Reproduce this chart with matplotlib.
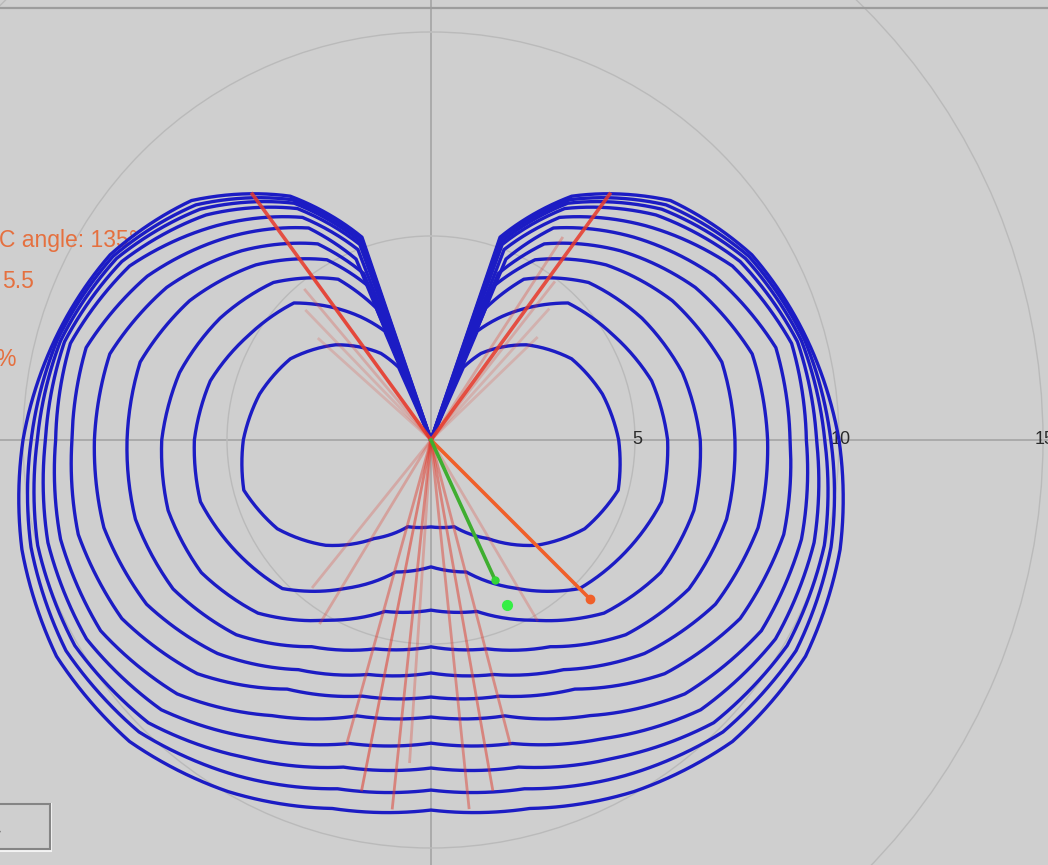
import numpy as np
import matplotlib.pyplot as plt
from matplotlib.lines import Line2D
from matplotlib.patches import Rectangle

# boat speed polar: one curve per true wind speed, starboard half (TWA 0..180),
# mirrored to port
twa = [30, 45, 60, 75, 90, 105, 120, 135, 150, 165, 180]
beat_angle = [24, 23, 22.5, 22, 22, 22.5, 21, 20, 19.5, 19, 18.8]
beat_speed = [1.95, 2.9, 3.5, 4.05, 4.4, 4.8, 5.0, 5.1, 5.15, 5.2, 5.25]
speeds = [
    [2.45, 3.3, 3.98, 4.35, 4.6, 4.75, 4.35, 3.65, 2.79, 2.2, 2.13],
    [3.5, 4.75, 5.15, 5.6, 5.8, 5.85, 5.5, 5.15, 4.2, 3.35, 3.11],
    [4.55, 5.46, 5.97, 6.38, 6.6, 6.67, 6.5, 6.0, 5.1, 4.35, 4.17],
    [5.1, 6.07, 6.83, 7.38, 7.45, 7.5, 7.3, 6.75, 5.85, 5.3, 5.07],
    [5.55, 6.56, 7.48, 8.15, 8.25, 8.3, 8.05, 7.4, 6.5, 5.95, 5.71],
    [6.0, 7.03, 8.03, 8.75, 8.8, 8.95, 8.75, 8.1, 7.05, 6.5, 6.30],
    [6.3, 7.43, 8.53, 9.15, 9.2, 9.4, 9.35, 8.8, 7.8, 7.0, 6.79],
    [6.55, 7.8, 8.75, 9.3, 9.45, 9.72, 9.75, 9.35, 8.45, 7.7, 7.43],
    [6.7, 8.0, 8.9, 9.4, 9.65, 9.98, 10.08, 9.8, 9.0, 8.3, 8.04],
    [6.8, 8.15, 9.0, 9.48, 9.8, 10.15, 10.33, 10.12, 9.5, 8.85, 8.58],
    [6.9, 8.3, 9.08, 9.54, 10.0, 10.38, 10.6, 10.45, 9.95, 9.35, 9.07],
]

# optimum beat lines and sampled headings
beat_line_angle = [36, 324]
beat_line_len = [7.45, 7.45]
ray_angle = [33, 38, 42, 46, 324, 320, 316, 312,
             174.1, 170, 165.4, 149.5, 183.8, 186, 191.2, 195.5, 211.2, 218.8]
ray_len = [5.9, 4.9, 4.3, 3.6, 5.2, 4.8, 4.4, 3.7,
           9.06, 8.7, 7.68, 5.12, 7.9, 9.07, 8.74, 7.7, 5.24, 4.62]
ray_alpha = [0.3, 0.25, 0.2, 0.2, 0.3, 0.25, 0.2, 0.2,
             0.45, 0.5, 0.45, 0.25, 0.3, 0.5, 0.55, 0.45, 0.3, 0.25]

vmc_angle = 135
vmc_speed = 5.5
heading_angle = 155.4
heading_speed = 3.77
target_speed = 4.45

ring_values = [5, 10, 15, 20]
ring_labels = [5, 10, 15]

W, H = 1048, 865
cx, cy = 431, 440
px_per_unit = 40.8
rmax = 22
bg = '#cfcfcf'

fig = plt.figure(figsize=(W / 100, H / 100), dpi=100, facecolor=bg)
R = rmax * px_per_unit
ax = fig.add_axes([(cx - R) / W, (H - cy - R) / H, 2 * R / W, 2 * R / H],
                  projection='polar')
ax.set_facecolor(bg)
ax.set_theta_zero_location('N')
ax.set_theta_direction(-1)
ax.set_ylim(0, rmax)
ax.set_rticks(ring_values)
ax.set_yticklabels([])
ax.set_thetagrids([0, 90, 180, 270], labels=[''] * 4)
ax.spines['polar'].set_visible(False)
ax.set_axisbelow(True)
ax.xaxis.grid(True, color='#a4a4a4', lw=1.2)
ax.yaxis.grid(True, color='#bababa', lw=1.0)

for v in ring_labels:
    ax.text(np.deg2rad(90), v + 0.05, str(v), ha='center', va='center',
            fontsize=13, color='#2a2a2a', family='Liberation Sans', zorder=1.5)

# info text, drawn under the curves
info = dict(transform=fig.transFigure, fontsize=16.5, color='#e5703f',
            family='Liberation Sans', va='center', ha='left', zorder=1.5)
ax.text(-1 / W, 1 - 241 / H, 'C angle: %d°' % vmc_angle, **info)
ax.text(2 / W, 1 - 281 / H, '%.1f' % vmc_speed, **info)
ax.text(-5 / W, 1 - 360 / H, '%', **info)

for a0, s0, row in zip(beat_angle, beat_speed, speeds):
    half_t = [a0, a0] + twa
    half_r = [0, s0] + row
    th = half_t + [360 - t for t in half_t[::-1][1:]]
    rr = half_r + half_r[::-1][1:]
    line, = ax.plot(np.deg2rad(th), rr, color='#1c1cc4', lw=2.4, zorder=2,
                    solid_joinstyle='round')
    # follow the polar grid between samples instead of straight chords
    line.get_path()._interpolation_steps = 24

for a, r, al in zip(ray_angle, ray_len, ray_alpha):
    ax.plot([np.deg2rad(a)] * 2, [0, r], color='#e03a2c', lw=2.0,
            alpha=al, zorder=3)
for a, r in zip(beat_line_angle, beat_line_len):
    ax.plot([np.deg2rad(a)] * 2, [0, r], color='#e8392a', lw=2.6,
            alpha=0.85, zorder=3)

ax.plot([np.deg2rad(vmc_angle)] * 2, [0, vmc_speed], color='#f0602a', lw=2.6,
        marker='o', ms=6, markevery=[1], zorder=4)
ax.plot([np.deg2rad(heading_angle)] * 2, [0, heading_speed], color='#3fae30',
        lw=2.6, marker='o', ms=5, mfc='#35d535', mec='#35d535',
        markevery=[1], zorder=4)
ax.plot([np.deg2rad(heading_angle)], [target_speed], 'o', color='#35ee45',
        ms=7, zorder=4)

# window chrome
fig.add_artist(Line2D([0, 1], [1 - 8 / H] * 2, color='#9c9c9c', lw=1.6))
fig.add_artist(Rectangle((-10 / W, 1 - 851 / H), 61 / W, 47 / H,
                         transform=fig.transFigure, fill=False,
                         ec='#f4f4f4', lw=1.5))
fig.add_artist(Rectangle((-10 / W, 1 - 849 / H), 60 / W, 45 / H,
                         transform=fig.transFigure, fill=False,
                         ec='#858585', lw=1.5))
fig.text(-6 / W, 1 - 832 / H, '-', fontsize=16, color='#202020',
         va='center', ha='left', family='Liberation Sans')

fig.savefig('out.png', dpi=100, facecolor=bg)
